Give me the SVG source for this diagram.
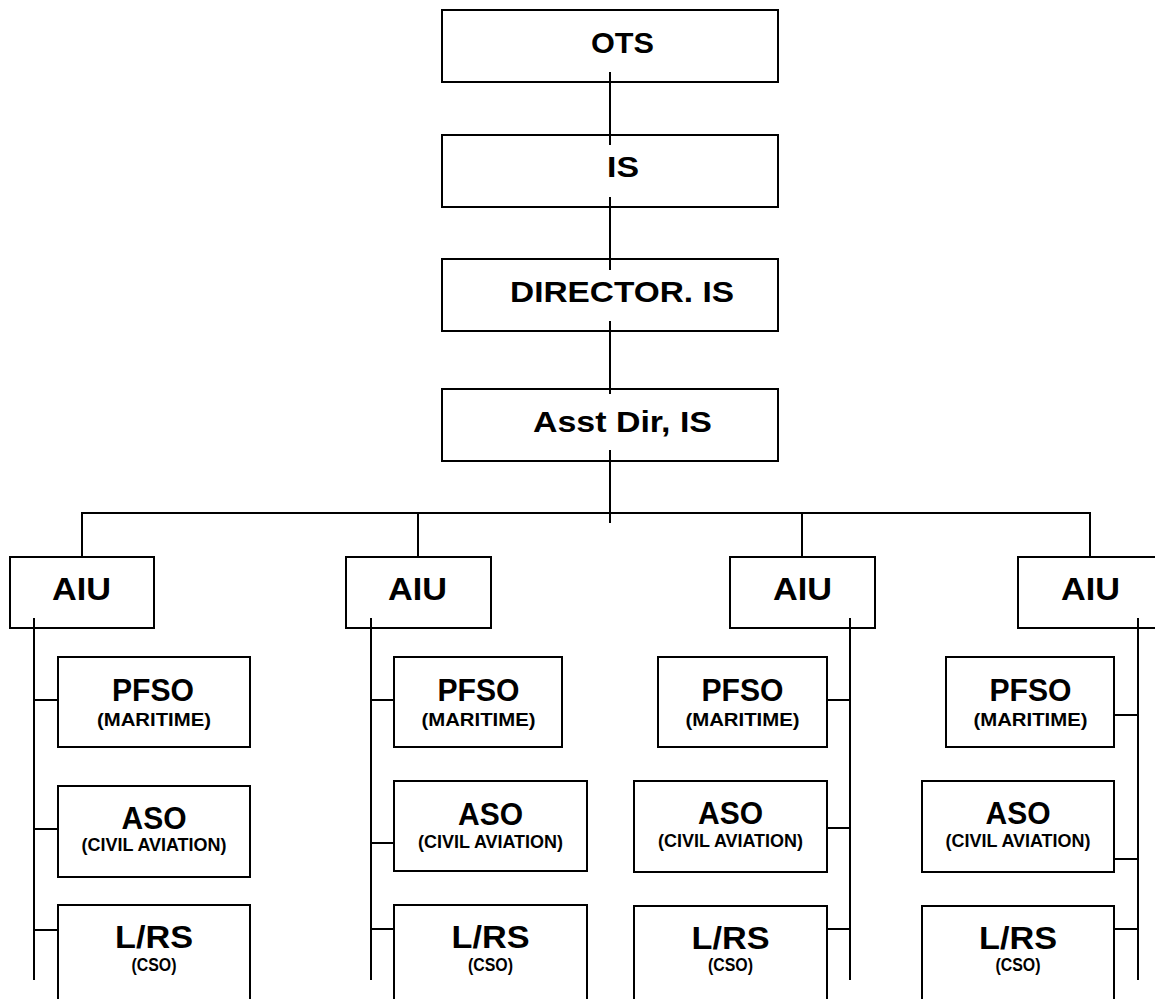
<svg xmlns="http://www.w3.org/2000/svg" width="1155" height="999" viewBox="0 0 1155 999">
<style>
rect{fill:#fff;stroke:#000;stroke-width:2}
text{font-family:"Liberation Sans",Arial,sans-serif;font-weight:bold;fill:#000;text-anchor:middle}
.t{font-size:30px}
.m{font-size:32px}
.s{font-size:18px}
#connectors line{stroke:#000;stroke-width:2}
</style>
<rect x="0" y="0" width="1155" height="999" style="fill:#fff;stroke:none"/>
<g id="n-ots"><rect x="442" y="10" width="336" height="72"/><text class="t" x="622.5" y="53" textLength="63" lengthAdjust="spacingAndGlyphs">OTS</text></g>
<g id="n-is"><rect x="442" y="135" width="336" height="72"/><text class="t" x="623" y="177" textLength="32" lengthAdjust="spacingAndGlyphs">IS</text></g>
<g id="n-director"><rect x="442" y="259" width="336" height="72"/><text class="t" x="622" y="302" textLength="224" lengthAdjust="spacingAndGlyphs">DIRECTOR. IS</text></g>
<g id="n-asst"><rect x="442" y="389" width="336" height="72"/><text class="t" x="622.5" y="432" textLength="179" lengthAdjust="spacingAndGlyphs">Asst Dir, IS</text></g>

<g id="n-aiu1"><rect x="10" y="557" width="144" height="71"/><text class="m" x="81.5" y="600" textLength="59" lengthAdjust="spacingAndGlyphs">AIU</text></g>
<g id="n-aiu2"><rect x="346" y="557" width="145" height="71"/><text class="m" x="417.5" y="600" textLength="59" lengthAdjust="spacingAndGlyphs">AIU</text></g>
<g id="n-aiu3"><rect x="730" y="557" width="145" height="71"/><text class="m" x="802.5" y="600" textLength="59" lengthAdjust="spacingAndGlyphs">AIU</text></g>
<g id="n-aiu4"><rect x="1018" y="557" width="145" height="71"/><text class="m" x="1090.5" y="600" textLength="59" lengthAdjust="spacingAndGlyphs">AIU</text></g>

<g id="n-pfso1"><rect x="58" y="657" width="192" height="90"/><text class="m" x="153" y="701" textLength="82" lengthAdjust="spacingAndGlyphs">PFSO</text><text class="s" x="154" y="726" textLength="114" lengthAdjust="spacingAndGlyphs">(MARITIME)</text></g>
<g id="n-aso1"><rect x="58" y="786" width="192" height="91"/><text class="m" x="154" y="829" textLength="65" lengthAdjust="spacingAndGlyphs">ASO</text><text class="s" x="154" y="851" textLength="145" lengthAdjust="spacingAndGlyphs">(CIVIL AVIATION)</text></g>
<g id="n-lrs1"><rect x="58" y="905" width="192" height="100"/><text class="m" x="154" y="948" textLength="78" lengthAdjust="spacingAndGlyphs">L/RS</text><text class="s" x="154" y="971" textLength="45" lengthAdjust="spacingAndGlyphs">(CSO)</text></g>

<g id="n-pfso2"><rect x="394" y="657" width="168" height="90"/><text class="m" x="478.5" y="701" textLength="82" lengthAdjust="spacingAndGlyphs">PFSO</text><text class="s" x="478.5" y="726" textLength="114" lengthAdjust="spacingAndGlyphs">(MARITIME)</text></g>
<g id="n-aso2"><rect x="394" y="781" width="193" height="90"/><text class="m" x="490.5" y="825" textLength="65" lengthAdjust="spacingAndGlyphs">ASO</text><text class="s" x="490.5" y="848" textLength="145" lengthAdjust="spacingAndGlyphs">(CIVIL AVIATION)</text></g>
<g id="n-lrs2"><rect x="394" y="905" width="193" height="100"/><text class="m" x="490.5" y="948" textLength="78" lengthAdjust="spacingAndGlyphs">L/RS</text><text class="s" x="490.5" y="971" textLength="45" lengthAdjust="spacingAndGlyphs">(CSO)</text></g>

<g id="n-pfso3"><rect x="658" y="657" width="169" height="90"/><text class="m" x="742.5" y="701" textLength="82" lengthAdjust="spacingAndGlyphs">PFSO</text><text class="s" x="742.5" y="726" textLength="114" lengthAdjust="spacingAndGlyphs">(MARITIME)</text></g>
<g id="n-aso3"><rect x="634" y="781" width="193" height="91"/><text class="m" x="730.5" y="824" textLength="65" lengthAdjust="spacingAndGlyphs">ASO</text><text class="s" x="730.5" y="847" textLength="145" lengthAdjust="spacingAndGlyphs">(CIVIL AVIATION)</text></g>
<g id="n-lrs3"><rect x="634" y="906" width="193" height="100"/><text class="m" x="730.5" y="949" textLength="78" lengthAdjust="spacingAndGlyphs">L/RS</text><text class="s" x="730.5" y="971" textLength="45" lengthAdjust="spacingAndGlyphs">(CSO)</text></g>

<g id="n-pfso4"><rect x="946" y="657" width="168" height="90"/><text class="m" x="1030.5" y="701" textLength="82" lengthAdjust="spacingAndGlyphs">PFSO</text><text class="s" x="1030.5" y="726" textLength="114" lengthAdjust="spacingAndGlyphs">(MARITIME)</text></g>
<g id="n-aso4"><rect x="922" y="781" width="192" height="91"/><text class="m" x="1018" y="824" textLength="65" lengthAdjust="spacingAndGlyphs">ASO</text><text class="s" x="1018" y="847" textLength="145" lengthAdjust="spacingAndGlyphs">(CIVIL AVIATION)</text></g>
<g id="n-lrs4"><rect x="922" y="906" width="192" height="100"/><text class="m" x="1018" y="949" textLength="78" lengthAdjust="spacingAndGlyphs">L/RS</text><text class="s" x="1018" y="971" textLength="45" lengthAdjust="spacingAndGlyphs">(CSO)</text></g>

<g id="connectors">
<line x1="610" y1="72" x2="610" y2="145"/>
<line x1="610" y1="197" x2="610" y2="270"/>
<line x1="610" y1="321" x2="610" y2="394"/>
<line x1="610" y1="450" x2="610" y2="523"/>
<line x1="81" y1="513" x2="1091" y2="513"/>
<line x1="82" y1="512" x2="82" y2="557"/>
<line x1="418" y1="512" x2="418" y2="557"/>
<line x1="802" y1="512" x2="802" y2="557"/>
<line x1="1090" y1="512" x2="1090" y2="557"/>
<line x1="34" y1="618" x2="34" y2="980"/>
<line x1="33" y1="700" x2="58" y2="700"/>
<line x1="33" y1="829" x2="58" y2="829"/>
<line x1="33" y1="930" x2="58" y2="930"/>
<line x1="371" y1="618" x2="371" y2="980"/>
<line x1="370" y1="700" x2="394" y2="700"/>
<line x1="370" y1="843" x2="394" y2="843"/>
<line x1="370" y1="929" x2="394" y2="929"/>
<line x1="850" y1="618" x2="850" y2="980"/>
<line x1="827" y1="700" x2="851" y2="700"/>
<line x1="827" y1="828" x2="851" y2="828"/>
<line x1="827" y1="929" x2="851" y2="929"/>
<line x1="1138" y1="618" x2="1138" y2="980"/>
<line x1="1114" y1="715" x2="1139" y2="715"/>
<line x1="1114" y1="859" x2="1139" y2="859"/>
<line x1="1114" y1="929" x2="1139" y2="929"/>
</g>
</svg>
